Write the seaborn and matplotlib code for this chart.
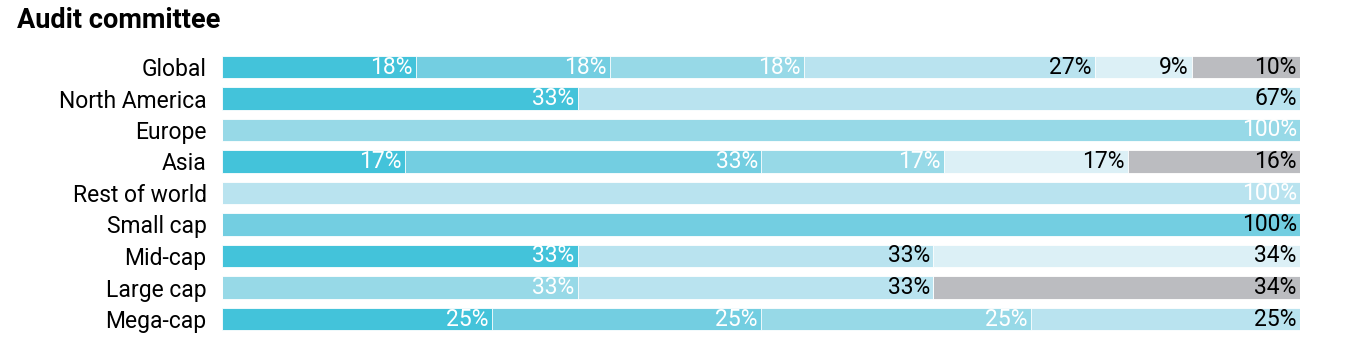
import numpy as np
import pandas as pd
import matplotlib
matplotlib.use("Agg")
import matplotlib.pyplot as plt
import seaborn as sns

title = "Audit committee"
categories = ["Global", "North America", "Europe", "Asia", "Rest of world",
              "Small cap", "Mid-cap", "Large cap", "Mega-cap"]
seg1 = [18, 33, 0, 17, 0, 0, 33, 0, 25]
seg2 = [18, 0, 0, 33, 0, 100, 0, 0, 25]
seg3 = [18, 0, 100, 17, 0, 0, 0, 33, 25]
seg4 = [27, 67, 0, 0, 100, 0, 33, 33, 25]
seg5 = [9, 0, 0, 17, 0, 0, 34, 0, 0]
seg6 = [10, 0, 0, 16, 0, 0, 0, 34, 0]

sns.set_theme(style="white")
plt.rcParams['font.family'] = ['Roboto', 'DejaVu Sans']

colors = ["#43C3DA", "#73CEE1", "#97D9E7", "#B9E3EF", "#DCF0F6", "#BBBCC0"]
text_default = ["white", "white", "white", "black", "black", "black"]
# label colour exceptions (row, segment) -> colour
text_override = {("Rest of world", 3): "white", ("Small cap", 1): "black"}

segs = [seg1, seg2, seg3, seg4, seg5, seg6]
vals = np.array(segs, dtype=float)  # shape (6, n)
cum = np.cumsum(vals, axis=0)

fig = plt.figure(figsize=(13.5, 3.45), dpi=100)
ax = fig.add_axes([222/1350, 1 - 334.75/345, (1300-222)/1350, (334.75-51.25)/345])

# draw cumulative bars from the last to the first
for i in range(len(segs) - 1, -1, -1):
    df = pd.DataFrame({"cat": categories, "val": cum[i]})
    sns.barplot(data=df, x="val", y="cat", orient="h", color=colors[i],
                saturation=1, width=0.73, edgecolor="white", linewidth=0.6,
                ax=ax, order=categories)

for r, cat in enumerate(categories):
    for i in range(len(segs)):
        v = vals[i, r]
        if v <= 0:
            continue
        c = text_override.get((cat, i), text_default[i])
        ax.text(cum[i, r] - 0.3, r, f"{int(v)}%", ha="right", va="center",
                color=c, fontsize=16.5)

ax.set_xlim(0, 100)
ax.set_ylim(8.5, -0.5)
ax.set_xlabel("")
ax.set_ylabel("")
ax.set_xticks([])
ax.tick_params(axis="y", length=0, pad=11, labelsize=16.5, labelcolor="black")
for s in ax.spines.values():
    s.set_visible(False)

fig.text(17/1350, 1 - 21/345, title, fontsize=19.5, fontweight="bold",
         ha="left", va="center", color="black")

fig.savefig("out.png", dpi=100)
